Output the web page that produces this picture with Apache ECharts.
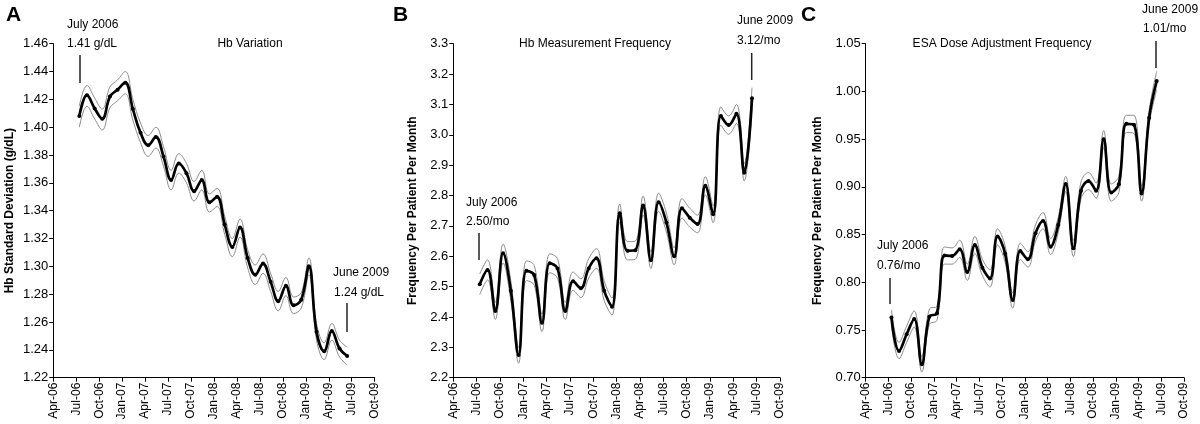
<!DOCTYPE html>
<html>
<head>
<meta charset="utf-8">
<script src="https://cdn.jsdelivr.net/npm/echarts@6/dist/echarts.min.js"></script>
<style>
html,body{margin:0;padding:0;background:#fff;}
#main{width:1200px;height:424px;}
</style>
</head>
<body>
<div id="main"></div>
<script>
// ---- data ----
var months = ['2006-07','2006-08','2006-09','2006-10','2006-11','2006-12','2007-01','2007-02','2007-03','2007-04','2007-05','2007-06',
  '2007-07','2007-08','2007-09','2007-10','2007-11','2007-12','2008-01','2008-02','2008-03','2008-04','2008-05','2008-06',
  '2008-07','2008-08','2008-09','2008-10','2008-11','2008-12','2009-01','2009-02','2009-03','2009-04','2009-05','2009-06'];
var tickLabels = ['Apr-06','Jul-06','Oct-06','Jan-07','Apr-07','Jul-07','Oct-07','Jan-08','Apr-08','Jul-08','Oct-08','Jan-09','Apr-09','Jul-09','Oct-09'];

var hbSD = [1.408,1.423,1.4135,1.406,1.422,1.427,1.432,1.413,1.396,1.387,1.393,1.379,1.362,1.374,1.367,1.354,1.362,1.346,1.350,1.330,1.314,1.328,1.306,1.294,1.302,1.289,1.275,1.286,1.272,1.276,1.300,1.253,1.239,1.2535,1.241,1.2356];
var hbSDUpper = [1.415,1.430,1.421,1.413,1.429,1.434,1.440,1.420,1.403,1.394,1.400,1.386,1.369,1.381,1.374,1.361,1.369,1.352,1.356,1.336,1.320,1.334,1.312,1.301,1.309,1.295,1.282,1.292,1.278,1.281,1.306,1.259,1.245,1.259,1.247,1.242];
var hbSDLower = [1.400,1.415,1.406,1.398,1.414,1.419,1.424,1.405,1.389,1.379,1.385,1.372,1.355,1.367,1.360,1.347,1.355,1.339,1.343,1.323,1.307,1.321,1.299,1.287,1.295,1.282,1.268,1.279,1.266,1.270,1.294,1.247,1.233,1.247,1.235,1.229];

var hbFreq = [2.508,2.555,2.420,2.610,2.486,2.275,2.552,2.538,2.381,2.577,2.560,2.420,2.518,2.495,2.560,2.593,2.486,2.434,2.742,2.618,2.620,2.767,2.587,2.778,2.711,2.600,2.758,2.727,2.706,2.832,2.738,3.062,3.032,3.069,2.875,3.120];
var hbFreqUpper = [2.542,2.588,2.448,2.640,2.518,2.300,2.585,2.570,2.410,2.608,2.592,2.448,2.548,2.526,2.592,2.625,2.518,2.462,2.772,2.648,2.650,2.798,2.615,2.808,2.742,2.628,2.790,2.758,2.735,2.862,2.766,3.092,3.062,3.100,2.905,3.155];
var hbFreqLower = [2.474,2.522,2.392,2.578,2.454,2.248,2.520,2.505,2.352,2.546,2.528,2.392,2.488,2.464,2.528,2.560,2.454,2.406,2.712,2.588,2.590,2.736,2.560,2.748,2.680,2.572,2.726,2.696,2.677,2.802,2.710,3.032,3.002,3.038,2.848,3.088];

var esaFreq = [0.763,0.728,0.7455,0.7615,0.714,0.764,0.7675,0.828,0.8276,0.8346,0.8108,0.839,0.8153,0.804,0.848,0.830,0.7814,0.8328,0.824,0.8513,0.8643,0.8373,0.860,0.903,0.8356,0.8957,0.906,0.896,0.950,0.894,0.9027,0.966,0.965,0.893,0.9725,1.011];
var esaFreqUpper = [0.771,0.737,0.754,0.770,0.722,0.772,0.775,0.837,0.836,0.844,0.819,0.848,0.824,0.813,0.856,0.838,0.789,0.841,0.832,0.860,0.873,0.846,0.868,0.911,0.844,0.905,0.915,0.904,0.959,0.903,0.911,0.975,0.975,0.901,0.980,1.021];
var esaFreqLower = [0.755,0.720,0.737,0.753,0.706,0.756,0.760,0.819,0.819,0.826,0.802,0.830,0.807,0.795,0.839,0.821,0.773,0.824,0.816,0.843,0.856,0.829,0.852,0.895,0.827,0.887,0.897,0.888,0.941,0.885,0.894,0.957,0.956,0.885,0.965,1.002];

// ---- build ----
var FONT = "'Liberation Sans', Arial, sans-serif";
function monthPos(s){ var p=s.split('-'); return (parseInt(p[0])-2006)*12 + (parseInt(p[1])-4) + 0.4; }
function pairs(vals){ return vals.map(function(v,i){ return [monthPos(months[i]), v]; }); }

var grids = [
  {left:53.3, width:321.4, top:43.7, height:334},
  {left:453.3, width:326.7, top:43.7, height:334},
  {left:865.7, width:318.3, top:43.7, height:334}
];
var yCfg = [
  {min:1.22, max:1.46, interval:0.02, dec:2, name:'Hb Standard Deviation (g/dL)', gap:38},
  {min:2.2, max:3.3, interval:0.1, dec:1, name:'Frequency Per Patient Per Month', gap:35},
  {min:0.70, max:1.05, interval:0.05, dec:2, name:'Frequency Per Patient Per Month', gap:42}
];
var sets = [[hbSD,hbSDUpper,hbSDLower],[hbFreq,hbFreqUpper,hbFreqLower],[esaFreq,esaFreqUpper,esaFreqLower]];

var xAxes=[], yAxes=[], series=[];
for (var k=0;k<3;k++){
  xAxes.push({type:'value', gridIndex:k, min:0, max:42, interval:3,
    axisLine:{lineStyle:{color:'#000',width:1}},
    axisTick:{show:true, length:4, lineStyle:{color:'#000'}},
    splitLine:{show:false},
    axisLabel:{rotate:90, fontSize:12, color:'#000', fontFamily:FONT, margin:5,
      formatter:function(v){ return tickLabels[Math.round(v/3)] || ''; }}
  });
  (function(c){
  yAxes.push({type:'value', gridIndex:k, min:c.min, max:c.max, interval:c.interval,
    name:c.name, nameLocation:'middle', nameRotate:90, nameGap:c.gap,
    nameTextStyle:{fontSize:12, fontWeight:'bold', color:'#000', fontFamily:FONT},
    axisLine:{show:true, lineStyle:{color:'#000',width:1}},
    axisTick:{show:true, length:4, lineStyle:{color:'#000'}},
    splitLine:{show:false},
    axisLabel:{fontSize:13, color:'#000', fontFamily:FONT, margin:5,
      formatter:function(v){ return v.toFixed(c.dec); }}
  });
  })(yCfg[k]);
  var s = sets[k];
  [1,2].forEach(function(j){
    series.push({type:'line', xAxisIndex:k, yAxisIndex:k, data:pairs(s[j]), smooth:0.4,
      showSymbol:false, lineStyle:{color:'#8c8c8c', width:1}, silent:true, z:2});
  });
  series.push({type:'line', xAxisIndex:k, yAxisIndex:k, data:pairs(s[0]), smooth:0.4,
    symbol:'circle', symbolSize:4, showSymbol:true, itemStyle:{color:'#000'},
    lineStyle:{color:'#000', width:2.7}, silent:true, z:3});
}

function txt(t,x,y,opt){
  opt = opt||{};
  return {type:'text', z:10, style:{text:t, x:x, y:y, fill:'#000',
    font:(opt.bold?'bold ':'')+(opt.size||12)+'px '+FONT,
    textAlign:opt.align||'left', textVerticalAlign:'middle'}};
}
function vline(x,y1,y2){
  return {type:'line', z:10, shape:{x1:x,y1:y1,x2:x,y2:y2}, style:{stroke:'#222', lineWidth:1.5}};
}
var graphics = [
  txt('A',6,15,{bold:true,size:21}),
  txt('B',393,15,{bold:true,size:21}),
  txt('C',801,15,{bold:true,size:21}),
  txt('Hb Variation',250,44,{align:'center'}),
  txt('July 2006',67,25), txt('1.41 g/dL',67,44), vline(80,55,83),
  txt('June 2009',333,273), txt('1.24 g/dL',334,293), vline(347,303,332),
  txt('Hb Measurement Frequency',595,44,{align:'center'}),
  txt('July 2006',466,203), txt('2.50/mo',466,222), vline(479,233,260),
  txt('June 2009',737,21), txt('3.12/mo',737,41), vline(751.7,53,80),
  txt('ESA Dose Adjustment Frequency',1002,44,{align:'center'}),
  txt('July 2006',877,246), txt('0.76/mo',877,266), vline(890,278,304),
  txt('June 2009',1142,10), txt('1.01/mo',1143,29), vline(1156,41,68)
];

var chart = echarts.init(document.getElementById('main'), null, {renderer:'canvas'});
chart.setOption({
  animation:false,
  backgroundColor:'#fff',
  textStyle:{fontFamily:FONT},
  grid:grids,
  xAxis:xAxes,
  yAxis:yAxes,
  series:series,
  graphic:graphics
});
</script>
</body>
</html>
